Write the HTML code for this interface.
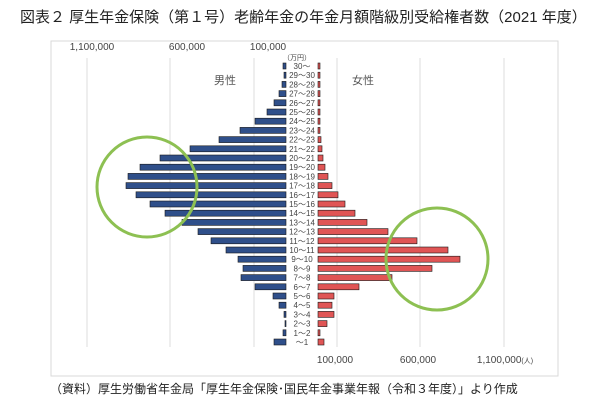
<!DOCTYPE html>
<html><head><meta charset="utf-8"><style>
html,body{margin:0;padding:0;background:#fff;}
body{width:600px;height:407px;overflow:hidden;}
svg text{font-family:"Liberation Sans","Noto Sans CJK JP",sans-serif;}
</style></head><body>
<svg width="600" height="407" viewBox="0 0 600 407" xmlns="http://www.w3.org/2000/svg">
<text x="20" y="22" font-size="15" fill="#222">図表２ 厚生年金保険（第１号）老齢年金の年金月額階級別受給権者数（2021 年度）</text>
<rect x="51" y="41" width="507" height="335" fill="none" stroke="#d9d9d9" stroke-width="1"/>
<g stroke="#dcdcdc" stroke-width="1">
<line x1="87" y1="58" x2="87" y2="347"/><line x1="170" y1="58" x2="170" y2="347"/><line x1="254" y1="58" x2="254" y2="347"/>
<line x1="337" y1="58" x2="337" y2="347"/><line x1="420" y1="58" x2="420" y2="347"/><line x1="504" y1="58" x2="504" y2="347"/>
</g>
<g font-size="10" fill="#444" text-anchor="middle">
<text x="92" y="50">1,100,000</text><text x="187" y="50">600,000</text><text x="268" y="50">100,000</text>
<text x="335" y="363">100,000</text><text x="418" y="363">600,000</text><text x="505" y="363">1,100,000<tspan font-size="7">(人)</tspan></text>
<text x="297" y="60" font-size="7">（万円）</text>
</g>
<text x="214" y="84" font-size="11" fill="#555">男性</text>
<text x="352" y="84" font-size="11" fill="#555">女性</text>
<g fill="#2f4f8a" stroke="#1a1a1a" stroke-width="0.6">
<rect x="283" y="63" width="3" height="6"/><rect x="284" y="72.2" width="2" height="6"/><rect x="282" y="81.4" width="4" height="6"/><rect x="279" y="90.6" width="7" height="6"/><rect x="274" y="99.8" width="12" height="6"/><rect x="267" y="109" width="19" height="6"/><rect x="255" y="118.2" width="31" height="6"/><rect x="240" y="127.4" width="46" height="6"/><rect x="219" y="136.6" width="67" height="6"/><rect x="190" y="145.8" width="96" height="6"/><rect x="160" y="155" width="126" height="6"/><rect x="140" y="164.2" width="146" height="6"/><rect x="128" y="173.4" width="158" height="6"/><rect x="126" y="182.6" width="160" height="6"/><rect x="136" y="191.8" width="150" height="6"/><rect x="150" y="201" width="136" height="6"/><rect x="165" y="210.2" width="121" height="6"/><rect x="182" y="219.4" width="104" height="6"/><rect x="198" y="228.6" width="88" height="6"/><rect x="211" y="237.8" width="75" height="6"/><rect x="226" y="247" width="60" height="6"/><rect x="238" y="256.2" width="48" height="6"/><rect x="243" y="265.4" width="43" height="6"/><rect x="241" y="274.6" width="45" height="6"/><rect x="255" y="283.8" width="31" height="6"/><rect x="273" y="293" width="13" height="6"/><rect x="279" y="302.2" width="7" height="6"/><rect x="284" y="311.4" width="2" height="6"/><rect x="285" y="320.6" width="1" height="6"/><rect x="283" y="329.8" width="3" height="6"/><rect x="274" y="339" width="12" height="6"/>
</g>
<g fill="#e05555" stroke="#1a1a1a" stroke-width="0.6">
<rect x="318" y="63" width="2" height="6"/><rect x="318" y="72.2" width="2" height="6"/><rect x="318" y="81.4" width="2" height="6"/><rect x="318" y="90.6" width="2" height="6"/><rect x="318" y="99.8" width="2" height="6"/><rect x="318" y="109" width="2" height="6"/><rect x="318" y="118.2" width="2" height="6"/><rect x="318" y="127.4" width="2" height="6"/><rect x="318" y="136.6" width="3" height="6"/><rect x="318" y="145.8" width="4" height="6"/><rect x="318" y="155" width="5" height="6"/><rect x="318" y="164.2" width="7" height="6"/><rect x="318" y="173.4" width="10" height="6"/><rect x="318" y="182.6" width="14" height="6"/><rect x="318" y="191.8" width="20" height="6"/><rect x="318" y="201" width="27" height="6"/><rect x="318" y="210.2" width="37" height="6"/><rect x="318" y="219.4" width="49" height="6"/><rect x="318" y="228.6" width="70" height="6"/><rect x="318" y="237.8" width="99" height="6"/><rect x="318" y="247" width="130" height="6"/><rect x="318" y="256.2" width="142" height="6"/><rect x="318" y="265.4" width="114" height="6"/><rect x="318" y="274.6" width="74" height="6"/><rect x="318" y="283.8" width="41" height="6"/><rect x="318" y="293" width="16" height="6"/><rect x="318" y="302.2" width="14" height="6"/><rect x="318" y="311.4" width="16" height="6"/><rect x="318" y="320.6" width="9" height="6"/><rect x="318" y="329.8" width="2" height="6"/><rect x="318" y="339" width="6" height="6"/>
</g>
<g font-size="8" fill="#444" text-anchor="middle">
<text x="302" y="69">30～</text><text x="302" y="78.2">29～30</text><text x="302" y="87.4">28～29</text><text x="302" y="96.6">27～28</text><text x="302" y="105.8">26～27</text><text x="302" y="115">25～26</text><text x="302" y="124.2">24～25</text><text x="302" y="133.4">23～24</text><text x="302" y="142.6">22～23</text><text x="302" y="151.8">21～22</text><text x="302" y="161">20～21</text><text x="302" y="170.2">19～20</text><text x="302" y="179.4">18～19</text><text x="302" y="188.6">17～18</text><text x="302" y="197.8">16～17</text><text x="302" y="207">15～16</text><text x="302" y="216.2">14～15</text><text x="302" y="225.4">13～14</text><text x="302" y="234.6">12～13</text><text x="302" y="243.8">11～12</text><text x="302" y="253">10～11</text><text x="302" y="262.2">9～10</text><text x="302" y="271.4">8～9</text><text x="302" y="280.6">7～8</text><text x="302" y="289.8">6～7</text><text x="302" y="299">5～6</text><text x="302" y="308.2">4～5</text><text x="302" y="317.4">3～4</text><text x="302" y="326.6">2～3</text><text x="302" y="335.8">1～2</text><text x="302" y="345">～1</text>
</g>
<circle cx="147" cy="187" r="50" fill="none" stroke="#8dc052" stroke-width="3"/>
<circle cx="437" cy="259" r="51" fill="none" stroke="#8dc052" stroke-width="3"/>
<text x="50" y="393" font-size="12" fill="#222">（資料）厚生労働省年金局「厚生年金保険･国民年金事業年報（令和３年度）」より作成</text>
</svg>
</body></html>
